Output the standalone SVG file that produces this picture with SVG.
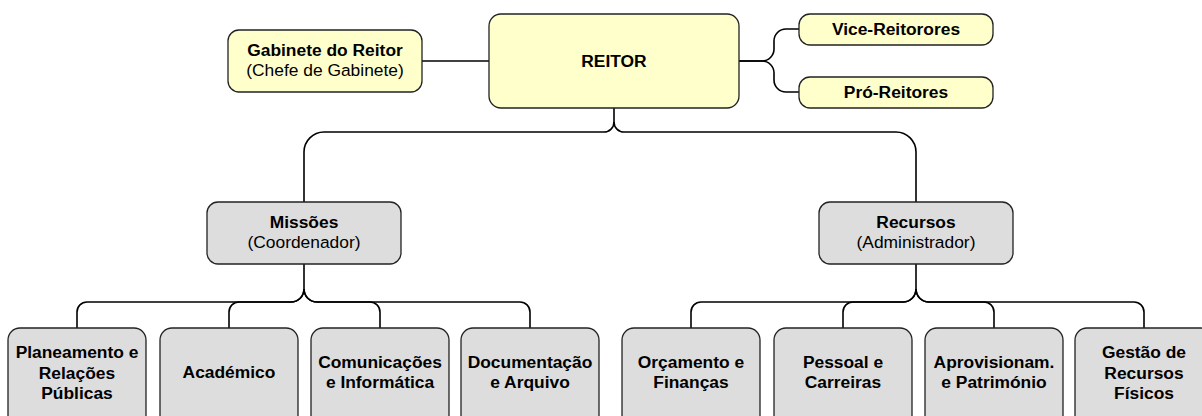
<svg xmlns="http://www.w3.org/2000/svg" width="1202" height="416" viewBox="0 0 1202 416">
<style>
.y{fill:#FFFFCC;stroke:#222;stroke-width:1.3}
.g{fill:#DDDDDD;stroke:#222;stroke-width:1.3}
.c{fill:none;stroke:#000;stroke-width:1.6}
text{font-family:"Liberation Sans",Arial,sans-serif;font-size:17.4px;fill:#000;text-anchor:middle}
.b{font-weight:bold}
</style>
<rect width="1202" height="416" fill="#fff"/>
<g id="connectors">
<path class="c" d="M422,61 H489"/>
<path class="c" d="M739,61 H762 A12,12 0 0 0 774,49 V41 A12,12 0 0 1 786,29 H799"/>
<path class="c" d="M739,61 H762 A12,12 0 0 1 774,73 V80 A12,12 0 0 0 786,92 H799"/>
<path class="c" d="M614,108 V122 A10,10 0 0 1 604,132 H324 A20,20 0 0 0 304,152 V202"/>
<path class="c" d="M614,122 A10,10 0 0 0 624,132 H896 A20,20 0 0 1 916,152 V202"/>
<path class="c" d="M304,264 V289 A13,13 0 0 1 291,302 H87 A10,10 0 0 0 77,312 V328"/>
<path class="c" d="M304,289 A13,13 0 0 1 291,302 H239 A10,10 0 0 0 229,312 V328"/>
<path class="c" d="M304,289 A13,13 0 0 0 317,302 H370 A10,10 0 0 1 380,312 V328"/>
<path class="c" d="M304,289 A13,13 0 0 0 317,302 H520 A10,10 0 0 1 530,312 V328"/>
<path class="c" d="M916,264 V289 A13,13 0 0 1 903,302 H701 A10,10 0 0 0 691,312 V328"/>
<path class="c" d="M916,289 A13,13 0 0 1 903,302 H853 A10,10 0 0 0 843,312 V328"/>
<path class="c" d="M916,289 A13,13 0 0 0 929,302 H984 A10,10 0 0 1 994,312 V328"/>
<path class="c" d="M916,289 A13,13 0 0 0 929,302 H1134 A10,10 0 0 1 1144,312 V328"/>
</g>
<g id="gabinete"><rect class="y" x="228" y="30" width="194" height="62" rx="11"/><text class="b" x="325" y="56">Gabinete do Reitor</text><text x="325" y="76">(Chefe de Gabinete)</text></g>
<g id="reitor"><rect class="y" x="489" y="14" width="250" height="94" rx="12"/><text class="b" x="614" y="67">REITOR</text></g>
<g id="vice"><rect class="y" x="799" y="14" width="194" height="31" rx="11"/><text class="b" x="896" y="35">Vice-Reitorores</text></g>
<g id="pro"><rect class="y" x="799" y="77" width="194" height="31" rx="11"/><text class="b" x="896" y="98">Pró-Reitores</text></g>
<g id="missoes"><rect class="g" x="207" y="202" width="194" height="62" rx="11"/><text class="b" x="304" y="228">Missões</text><text x="304" y="248">(Coordenador)</text></g>
<g id="recursos"><rect class="g" x="819" y="202" width="194" height="62" rx="11"/><text class="b" x="916" y="228">Recursos</text><text x="916" y="248">(Administrador)</text></g>
<g id="planeamento"><rect class="g" x="8" y="328" width="138" height="100" rx="12"/><text class="b" x="77" y="358">Planeamento e</text><text class="b" x="77" y="379">Relações</text><text class="b" x="77" y="399">Públicas</text></g>
<g id="academico"><rect class="g" x="160" y="328" width="138" height="100" rx="12"/><text class="b" x="229" y="378">Académico</text></g>
<g id="comunicacoes"><rect class="g" x="311" y="328" width="138" height="100" rx="12"/><text class="b" x="380" y="368">Comunicações</text><text class="b" x="380" y="388">e Informática</text></g>
<g id="documentacao"><rect class="g" x="461" y="328" width="138" height="100" rx="12"/><text class="b" x="530" y="368">Documentação</text><text class="b" x="530" y="388">e Arquivo</text></g>
<g id="orcamento"><rect class="g" x="622" y="328" width="138" height="100" rx="12"/><text class="b" x="691" y="368">Orçamento e</text><text class="b" x="691" y="388">Finanças</text></g>
<g id="pessoal"><rect class="g" x="774" y="328" width="138" height="100" rx="12"/><text class="b" x="843" y="368">Pessoal e</text><text class="b" x="843" y="388">Carreiras</text></g>
<g id="aprovisionamento"><rect class="g" x="925" y="328" width="138" height="100" rx="12"/><text class="b" x="994" y="368">Aprovisionam.</text><text class="b" x="994" y="388">e Património</text></g>
<g id="gestao"><rect class="g" x="1075" y="328" width="138" height="100" rx="12"/><text class="b" x="1144" y="358">Gestão de</text><text class="b" x="1144" y="379">Recursos</text><text class="b" x="1144" y="399">Físicos</text></g>
</svg>
